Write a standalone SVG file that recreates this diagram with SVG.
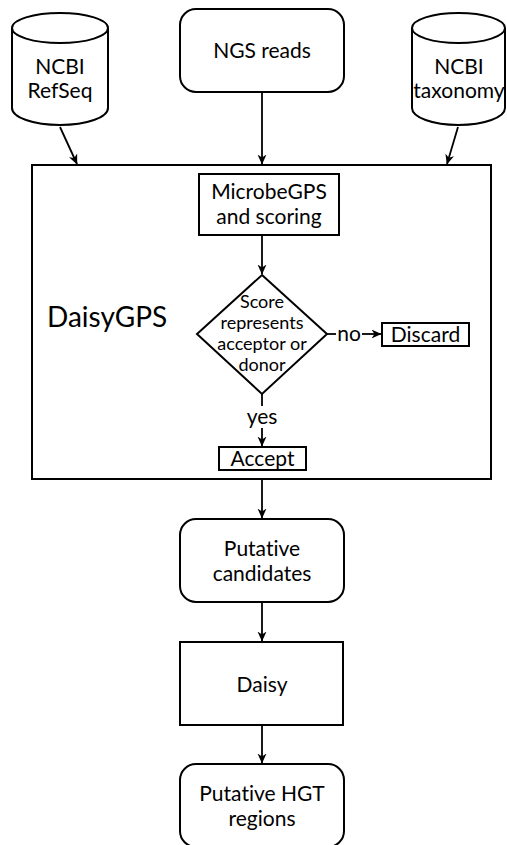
<svg xmlns="http://www.w3.org/2000/svg" width="507" height="845" viewBox="0 0 507 845">
  <style>
    .shape { fill: #ffffff; stroke: #000000; stroke-width: 2; }
    .edge { fill: none; stroke: #000000; stroke-width: 1.8; }
    .lbl { font-family: Lato, "Open Sans", "Liberation Sans", sans-serif; font-size: 21px; fill: #000000; text-anchor: middle; font-variant-ligatures: none; }
    .small { font-size: 18px; }
    .big { font-size: 28px; text-anchor: start; }
  </style>
  <defs>
    <marker id="arrow" viewBox="0 0 10 10" refX="9.5" refY="5" markerWidth="10" markerHeight="10" markerUnits="userSpaceOnUse" orient="auto">
      <path d="M0,0.5 L10,5 L0,9.5 L3,5 Z" fill="#000000"/>
    </marker>
  </defs>

  <rect width="507" height="845" fill="#ffffff"/>

  <!-- container -->
  <g id="daisygps">
    <rect class="shape" x="32" y="165" width="459" height="314"/>
    <text class="lbl big" x="47" y="327">DaisyGPS</text>
  </g>

  <!-- sources -->
  <g id="refseq">
    <path class="shape" d="M12,28 A48,15 0 0 1 108,28 L108,108 A48,17 0 0 1 12,108 Z"/>
    <path class="shape" fill="none" d="M12,28 A48,15 0 0 0 108,28"/>
    <text class="lbl" x="60" y="74">NCBI</text>
    <text class="lbl" x="60" y="98">RefSeq</text>
  </g>

  <g id="ngs-reads">
    <rect class="shape" x="180" y="9" width="164" height="83" rx="16"/>
    <text class="lbl" x="262" y="58">NGS reads</text>
  </g>

  <g id="taxonomy">
    <path class="shape" d="M412,28 A46.5,15 0 0 1 505,28 L505,108 A46.5,17 0 0 1 412,108 Z"/>
    <path class="shape" fill="none" d="M412,28 A46.5,15 0 0 0 505,28"/>
    <text class="lbl" x="459" y="74">NCBI</text>
    <text class="lbl" x="459" y="98">taxonomy</text>
  </g>

  <!-- inner steps -->
  <g id="microbegps">
    <rect class="shape" x="199" y="174" width="140" height="61"/>
    <text class="lbl" x="269" y="199">MicrobeGPS</text>
    <text class="lbl" x="269" y="224">and scoring</text>
  </g>

  <g id="decision">
    <path class="shape" d="M262,275 L327,334 L262,394 L197,334 Z"/>
    <text class="lbl small" x="262" y="308">Score</text>
    <text class="lbl small" x="262" y="329">represents</text>
    <text class="lbl small" x="262" y="350">acceptor or</text>
    <text class="lbl small" x="262" y="371">donor</text>
  </g>

  <g id="discard">
    <rect class="shape" x="382" y="323" width="87" height="23"/>
    <text class="lbl" x="425.5" y="342">Discard</text>
  </g>

  <g id="accept">
    <rect class="shape" x="219" y="447" width="87" height="23"/>
    <text class="lbl" x="262.5" y="466">Accept</text>
  </g>

  <!-- downstream -->
  <g id="putative-candidates">
    <rect class="shape" x="180" y="519" width="164" height="83" rx="16"/>
    <text class="lbl" x="262" y="556">Putative</text>
    <text class="lbl" x="262" y="581">candidates</text>
  </g>

  <g id="daisy">
    <rect class="shape" x="180" y="642" width="163" height="83"/>
    <text class="lbl" x="262" y="692">Daisy</text>
  </g>

  <g id="hgt-regions">
    <rect class="shape" x="180" y="764" width="164" height="83" rx="16"/>
    <text class="lbl" x="262" y="801">Putative HGT</text>
    <text class="lbl" x="262" y="826">regions</text>
  </g>

  <!-- connectors -->
  <g id="connectors">
    <path class="edge" marker-end="url(#arrow)" d="M60,127 L77,164"/>
    <path class="edge" marker-end="url(#arrow)" d="M262,92 L262,164"/>
    <path class="edge" marker-end="url(#arrow)" d="M458,127 L447,164"/>
    <path class="edge" marker-end="url(#arrow)" d="M262,235 L262,274"/>
    <path class="edge" d="M327,334 L336,334"/>
    <path class="edge" marker-end="url(#arrow)" d="M362,334 L381,334"/>
    <text class="lbl" x="349" y="341">no</text>
    <path class="edge" d="M262,394 L262,406"/>
    <text class="lbl" x="262" y="424">yes</text>
    <path class="edge" marker-end="url(#arrow)" d="M262,428 L262,446"/>
    <path class="edge" marker-end="url(#arrow)" d="M262,479 L262,518"/>
    <path class="edge" marker-end="url(#arrow)" d="M262,602 L262,641"/>
    <path class="edge" marker-end="url(#arrow)" d="M262,725 L262,763"/>
  </g>
</svg>
